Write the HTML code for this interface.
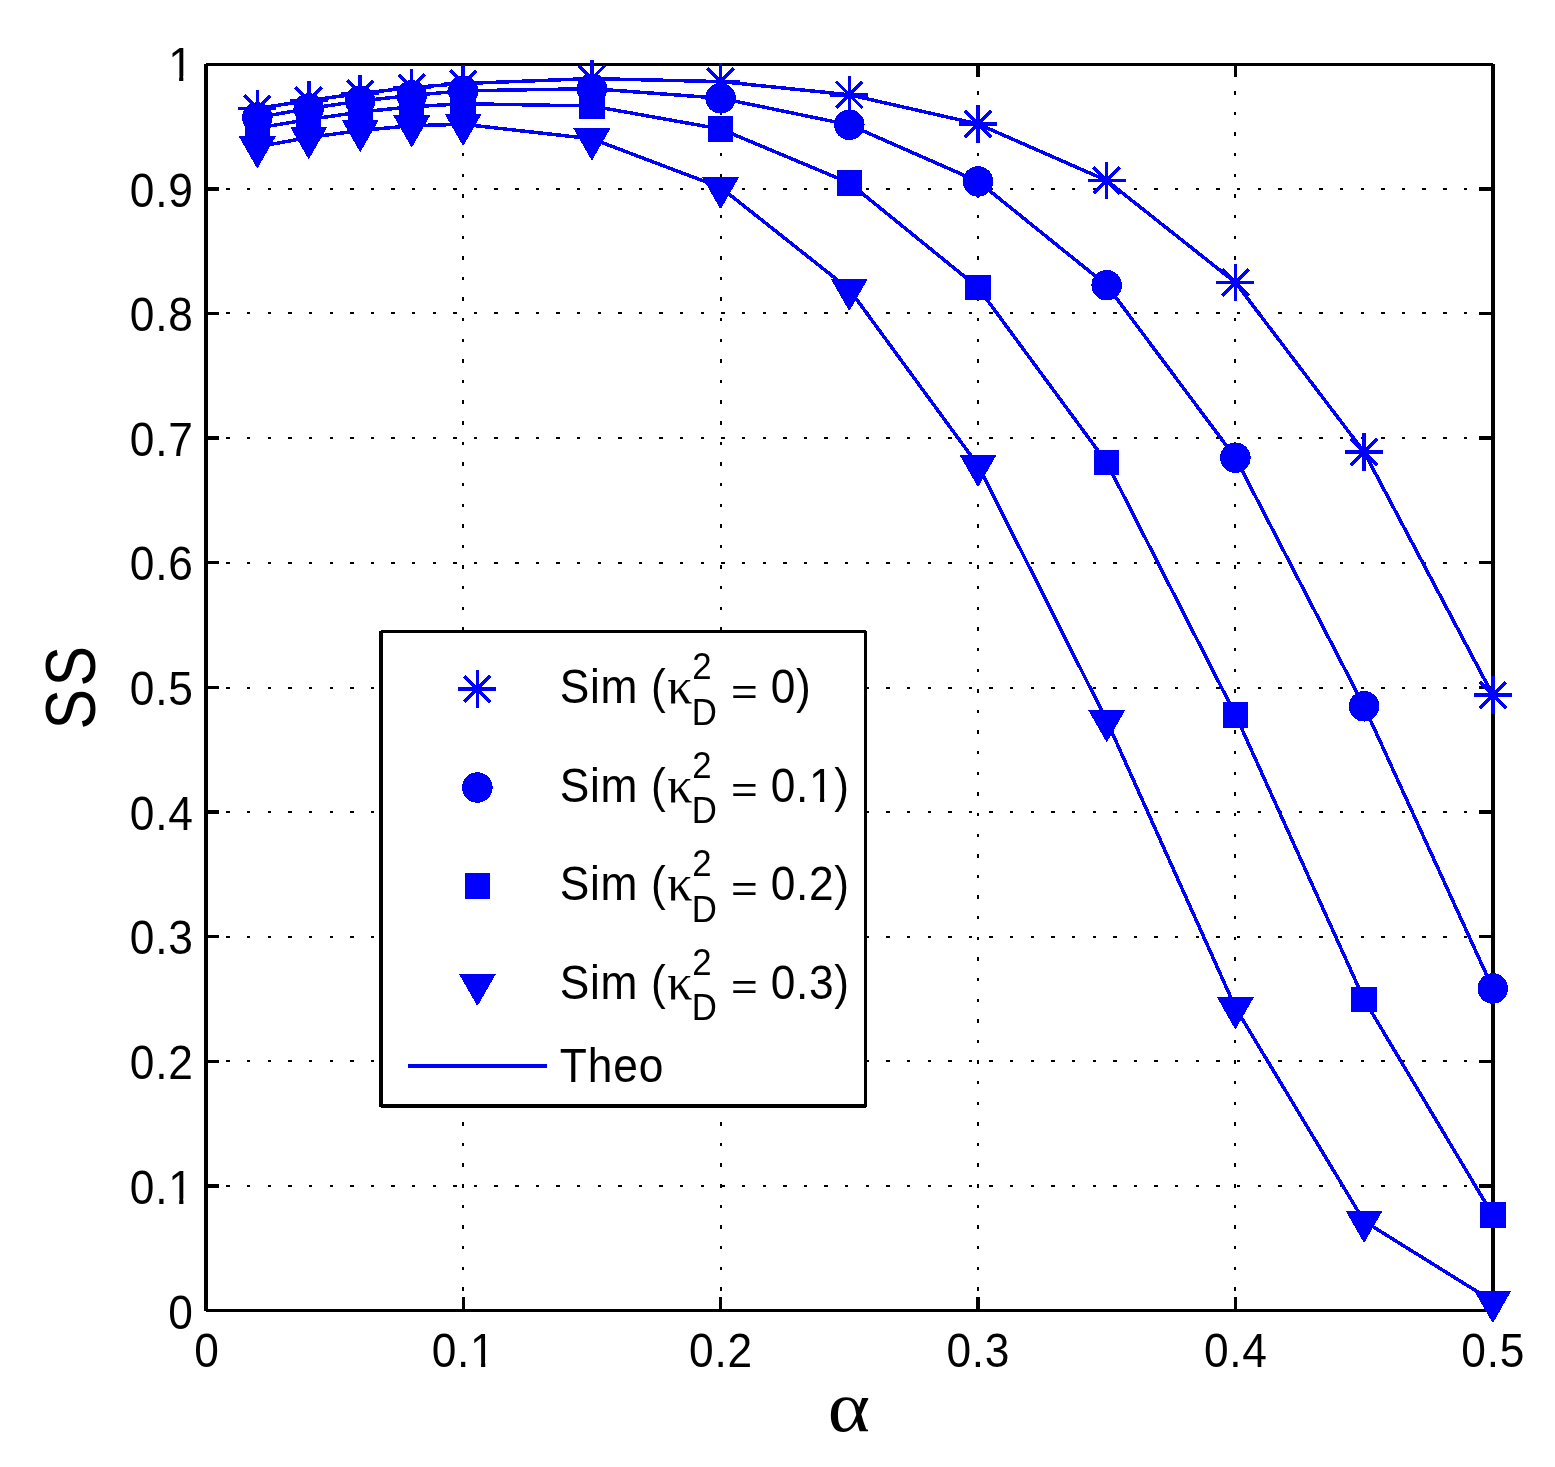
<!DOCTYPE html>
<html lang="en"><head><meta charset="utf-8"><title>SS versus alpha</title>
<style>
html,body{margin:0;padding:0;background:#fff;}
body{width:1555px;height:1467px;overflow:hidden;}
svg{display:block;}
text{font-family:"Liberation Sans",sans-serif;fill:#000;}
.t{font-size:47.4px;}
.s{font-size:37.2px;}
.g{font-family:"Liberation Serif","DejaVu Serif",serif;}
</style></head><body>
<svg width="1555" height="1467" viewBox="0 0 1555 1467">
<rect x="0" y="0" width="1555" height="1467" fill="#fff"/>
<g shape-rendering="crispEdges" stroke="#000" stroke-width="2" fill="none" stroke-dasharray="3.4 17.222">
<line x1="205.78" y1="189" x2="1493" y2="189"/>
<line x1="205.78" y1="313" x2="1493" y2="313"/>
<line x1="205.78" y1="438" x2="1493" y2="438"/>
<line x1="205.78" y1="563" x2="1493" y2="563"/>
<line x1="205.78" y1="688" x2="1493" y2="688"/>
<line x1="205.78" y1="812" x2="1493" y2="812"/>
<line x1="205.78" y1="937" x2="1493" y2="937"/>
<line x1="205.78" y1="1061" x2="1493" y2="1061"/>
<line x1="205.78" y1="1186" x2="1493" y2="1186"/>
<line x1="463" y1="1311.25" x2="463" y2="64.5"/>
<line x1="721" y1="1311.25" x2="721" y2="64.5"/>
<line x1="978" y1="1311.25" x2="978" y2="64.5"/>
<line x1="1235" y1="1311.25" x2="1235" y2="64.5"/>
</g>
<g shape-rendering="crispEdges" fill="#000">
<rect x="204" y="64" width="4" height="1247"/>
<rect x="1491" y="64" width="4" height="1247"/>
<rect x="206" y="63" width="1287" height="3"/>
<rect x="206" y="1309" width="1287" height="3"/>
<rect x="208" y="187" width="11" height="4"/>
<rect x="1479" y="187" width="12" height="4"/>
<rect x="208" y="312" width="11" height="3"/>
<rect x="1479" y="312" width="12" height="3"/>
<rect x="208" y="436" width="11" height="4"/>
<rect x="1479" y="436" width="12" height="4"/>
<rect x="208" y="561" width="11" height="3"/>
<rect x="1479" y="561" width="12" height="3"/>
<rect x="208" y="686" width="11" height="3"/>
<rect x="1479" y="686" width="12" height="3"/>
<rect x="208" y="810" width="11" height="4"/>
<rect x="1479" y="810" width="12" height="4"/>
<rect x="208" y="935" width="11" height="3"/>
<rect x="1479" y="935" width="12" height="3"/>
<rect x="208" y="1060" width="11" height="3"/>
<rect x="1479" y="1060" width="12" height="3"/>
<rect x="208" y="1184" width="11" height="4"/>
<rect x="1479" y="1184" width="12" height="4"/>
<rect x="462" y="1297" width="3" height="12"/>
<rect x="462" y="66" width="3" height="11"/>
<rect x="719" y="1297" width="3" height="12"/>
<rect x="719" y="66" width="3" height="11"/>
<rect x="976" y="1297" width="4" height="12"/>
<rect x="976" y="66" width="4" height="11"/>
<rect x="1234" y="1297" width="3" height="12"/>
<rect x="1234" y="66" width="3" height="11"/>
</g>
<g transform="translate(168.13,1328.70) scale(0.935,1)"><text class="t" letter-spacing="0.899">0</text></g>
<g transform="translate(129.84,1203.50) scale(0.935,1)"><text class="t" letter-spacing="0.749">0.1</text><rect x="43.11" y="-4.98" width="9.70" height="6.02" fill="#fff"/><rect x="57.28" y="-4.98" width="9.44" height="6.02" fill="#fff"/></g>
<g transform="translate(129.84,1079.00) scale(0.935,1)"><text class="t" letter-spacing="0.749">0.2</text></g>
<g transform="translate(129.84,954.00) scale(0.935,1)"><text class="t" letter-spacing="0.749">0.3</text></g>
<g transform="translate(129.84,829.50) scale(0.935,1)"><text class="t" letter-spacing="0.749">0.4</text></g>
<g transform="translate(129.84,705.00) scale(0.935,1)"><text class="t" letter-spacing="0.749">0.5</text></g>
<g transform="translate(129.84,580.00) scale(0.935,1)"><text class="t" letter-spacing="0.749">0.6</text></g>
<g transform="translate(129.84,455.50) scale(0.935,1)"><text class="t" letter-spacing="0.749">0.7</text></g>
<g transform="translate(129.84,331.00) scale(0.935,1)"><text class="t" letter-spacing="0.749">0.8</text></g>
<g transform="translate(129.84,206.50) scale(0.935,1)"><text class="t" letter-spacing="0.749">0.9</text></g>
<g transform="translate(168.13,81.10) scale(0.935,1)"><text class="t" letter-spacing="0.899">1</text><rect x="2.08" y="-4.98" width="9.70" height="6.02" fill="#fff"/><rect x="16.25" y="-4.98" width="9.44" height="6.02" fill="#fff"/></g>
<g transform="translate(194.28,1366.70) scale(0.935,1)"><text class="t" letter-spacing="0.899">0</text></g>
<g transform="translate(431.70,1366.70) scale(0.935,1)"><text class="t" letter-spacing="0.749">0.1</text><rect x="43.11" y="-4.98" width="9.70" height="6.02" fill="#fff"/><rect x="57.28" y="-4.98" width="9.44" height="6.02" fill="#fff"/></g>
<g transform="translate(689.10,1366.70) scale(0.935,1)"><text class="t" letter-spacing="0.749">0.2</text></g>
<g transform="translate(946.50,1366.70) scale(0.935,1)"><text class="t" letter-spacing="0.749">0.3</text></g>
<g transform="translate(1203.90,1366.70) scale(0.935,1)"><text class="t" letter-spacing="0.749">0.4</text></g>
<g transform="translate(1461.30,1366.70) scale(0.935,1)"><text class="t" letter-spacing="0.749">0.5</text></g>
<g transform="translate(827.73,1431.39) scale(1.137,1)"><text class="g" x="0" y="0" style="font-size:71px">α</text></g>
<g transform="translate(94.7,686.4) rotate(-90) scale(0.872,1)"><text x="0" y="0" text-anchor="middle" style="font-size:69.8px;letter-spacing:3px">SS</text></g>
<g shape-rendering="crispEdges">
<g fill="none" stroke="#0000ff" stroke-width="3.5" stroke-linejoin="round">
<polyline points="257.28,108.50 308.76,100.40 360.24,93.50 411.72,87.50 463.20,83.50 591.90,78.60 720.60,81.60 849.30,94.80 978.00,124.00 1106.70,180.50 1235.40,282.50 1364.10,452.00 1492.80,695.10"/>
<polyline points="257.28,117.50 308.76,108.50 360.24,101.00 411.72,95.40 463.20,90.80 591.90,88.70 720.60,98.20 849.30,124.80 978.00,181.40 1106.70,285.20 1235.40,457.70 1364.10,706.30 1492.80,988.50"/>
<polyline points="257.28,128.00 308.76,119.50 360.24,112.00 411.72,106.80 463.20,103.70 591.90,106.00 720.60,129.00 849.30,182.90 978.00,287.50 1106.70,462.50 1235.40,714.70 1364.10,999.60 1492.80,1215.10"/>
<polyline points="257.28,146.80 308.76,137.50 360.24,130.50 411.72,125.70 463.20,124.30 591.90,138.80 720.60,187.45 849.30,289.40 978.00,465.30 1106.70,720.50 1235.40,1007.60 1364.10,1221.20 1492.80,1301.30"/>
</g>
<g fill="none" stroke="#0000ff" stroke-width="3.5">
<path d="M238.33 108.50H276.23M257.28 89.55V127.45M244.18 95.40L270.38 121.60M244.18 121.60L270.38 95.40"/>
<path d="M289.81 100.40H327.71M308.76 81.45V119.35M295.66 87.30L321.86 113.50M295.66 113.50L321.86 87.30"/>
<path d="M341.29 93.50H379.19M360.24 74.55V112.45M347.14 80.40L373.34 106.60M347.14 106.60L373.34 80.40"/>
<path d="M392.77 87.50H430.67M411.72 68.55V106.45M398.62 74.40L424.82 100.60M398.62 100.60L424.82 74.40"/>
<path d="M444.25 83.50H482.15M463.20 64.55V102.45M450.10 70.40L476.30 96.60M450.10 96.60L476.30 70.40"/>
<path d="M572.95 78.60H610.85M591.90 59.65V97.55M578.80 65.50L605.00 91.70M578.80 91.70L605.00 65.50"/>
<path d="M701.65 81.60H739.55M720.60 62.65V100.55M707.50 68.50L733.70 94.70M707.50 94.70L733.70 68.50"/>
<path d="M830.35 94.80H868.25M849.30 75.85V113.75M836.20 81.70L862.40 107.90M836.20 107.90L862.40 81.70"/>
<path d="M959.05 124.00H996.95M978.00 105.05V142.95M964.90 110.90L991.10 137.10M964.90 137.10L991.10 110.90"/>
<path d="M1087.75 180.50H1125.65M1106.70 161.55V199.45M1093.60 167.40L1119.80 193.60M1093.60 193.60L1119.80 167.40"/>
<path d="M1216.45 282.50H1254.35M1235.40 263.55V301.45M1222.30 269.40L1248.50 295.60M1222.30 295.60L1248.50 269.40"/>
<path d="M1345.15 452.00H1383.05M1364.10 433.05V470.95M1351.00 438.90L1377.20 465.10M1351.00 465.10L1377.20 438.90"/>
<path d="M1473.85 695.10H1511.75M1492.80 676.15V714.05M1479.70 682.00L1505.90 708.20M1479.70 708.20L1505.90 682.00"/>
</g>
<g fill="#0000ff" stroke="none">
<circle cx="257.28" cy="117.50" r="15.25"/>
<circle cx="308.76" cy="108.50" r="15.25"/>
<circle cx="360.24" cy="101.00" r="15.25"/>
<circle cx="411.72" cy="95.40" r="15.25"/>
<circle cx="463.20" cy="90.80" r="15.25"/>
<circle cx="591.90" cy="88.70" r="15.25"/>
<circle cx="720.60" cy="98.20" r="15.25"/>
<circle cx="849.30" cy="124.80" r="15.25"/>
<circle cx="978.00" cy="181.40" r="15.25"/>
<circle cx="1106.70" cy="285.20" r="15.25"/>
<circle cx="1235.40" cy="457.70" r="15.25"/>
<circle cx="1364.10" cy="706.30" r="15.25"/>
<circle cx="1492.80" cy="988.50" r="15.25"/>
<rect x="244.56" y="115.20" width="25.45" height="25.6"/>
<rect x="296.03" y="106.70" width="25.45" height="25.6"/>
<rect x="347.51" y="99.20" width="25.45" height="25.6"/>
<rect x="399.00" y="94.00" width="25.45" height="25.6"/>
<rect x="450.48" y="90.90" width="25.45" height="25.6"/>
<rect x="579.17" y="93.20" width="25.45" height="25.6"/>
<rect x="707.88" y="116.20" width="25.45" height="25.6"/>
<rect x="836.57" y="170.10" width="25.45" height="25.6"/>
<rect x="965.27" y="274.70" width="25.45" height="25.6"/>
<rect x="1093.98" y="449.70" width="25.45" height="25.6"/>
<rect x="1222.68" y="701.90" width="25.45" height="25.6"/>
<rect x="1351.38" y="986.80" width="25.45" height="25.6"/>
<rect x="1480.08" y="1202.30" width="25.45" height="25.6"/>
<path d="M238.68 136.20H275.88L257.83 167.80H256.73Z"/>
<path d="M290.16 126.90H327.36L309.31 158.50H308.21Z"/>
<path d="M341.64 119.90H378.84L360.79 151.50H359.69Z"/>
<path d="M393.12 115.10H430.32L412.27 146.70H411.17Z"/>
<path d="M444.60 113.70H481.80L463.75 145.30H462.65Z"/>
<path d="M573.30 128.20H610.50L592.45 159.80H591.35Z"/>
<path d="M702.00 176.85H739.20L721.15 208.45H720.05Z"/>
<path d="M830.70 278.80H867.90L849.85 310.40H848.75Z"/>
<path d="M959.40 454.70H996.60L978.55 486.30H977.45Z"/>
<path d="M1088.10 709.90H1125.30L1107.25 741.50H1106.15Z"/>
<path d="M1216.80 997.00H1254.00L1235.95 1028.60H1234.85Z"/>
<path d="M1345.50 1210.60H1382.70L1364.65 1242.20H1363.55Z"/>
<path d="M1474.20 1290.70H1511.40L1493.35 1322.30H1492.25Z"/>
</g>
<rect x="381" y="631" width="485" height="475" fill="#fff" stroke="none"/>
<g fill="#000">
<rect x="379" y="631" width="4" height="476"/>
<rect x="864" y="631" width="3" height="476"/>
<rect x="381" y="630" width="485" height="3"/>
<rect x="381" y="1104" width="485" height="4"/>
</g>
<g fill="none" stroke="#0000ff" stroke-width="3.5"><path d="M458.45 689.00H496.35M477.40 670.05V707.95M464.30 675.90L490.50 702.10M464.30 702.10L490.50 675.90"/></g>
<g fill="#0000ff"><circle cx="477.40" cy="787.50" r="15.25"/><rect x="464.67" y="873.20" width="25.45" height="25.6"/><path d="M458.80 973.70H496.00L477.95 1005.30H476.85Z"/></g>
<rect x="408" y="1064" width="139" height="4" fill="#0000ff"/>
</g>
<g transform="translate(559.65,703.30) scale(0.935,1)"><text class="t" letter-spacing="0.754">Sim (</text></g>
<text class="g" x="667.3" y="703.3" style="font-size:50px">κ</text>
<g transform="translate(692.34,679.40) scale(0.935,1)"><text class="s" letter-spacing="0.724">2</text></g>
<g transform="translate(691.74,724.80) scale(0.935,1)"><text class="s" letter-spacing="0.941">D</text></g>
<g transform="translate(730.93,703.70) scale(1,0.8)"><text x="0" y="0" style="font-size:45.83px">=</text></g>
<g transform="translate(770.77,703.30) scale(0.935,1)"><text class="t" letter-spacing="0.718">0)</text></g>
<g transform="translate(559.65,801.80) scale(0.935,1)"><text class="t" letter-spacing="0.754">Sim (</text></g>
<text class="g" x="667.3" y="801.8" style="font-size:50px">κ</text>
<g transform="translate(692.34,777.90) scale(0.935,1)"><text class="s" letter-spacing="0.724">2</text></g>
<g transform="translate(691.74,823.30) scale(0.935,1)"><text class="s" letter-spacing="0.941">D</text></g>
<g transform="translate(730.93,802.20) scale(1,0.8)"><text x="0" y="0" style="font-size:45.83px">=</text></g>
<g transform="translate(770.76,801.80) scale(0.935,1)"><text class="t" letter-spacing="0.696">0.1)</text><rect x="43.01" y="-4.98" width="9.70" height="6.02" fill="#fff"/><rect x="57.17" y="-4.98" width="9.44" height="6.02" fill="#fff"/></g>
<g transform="translate(559.65,900.30) scale(0.935,1)"><text class="t" letter-spacing="0.754">Sim (</text></g>
<text class="g" x="667.3" y="900.3" style="font-size:50px">κ</text>
<g transform="translate(692.34,876.40) scale(0.935,1)"><text class="s" letter-spacing="0.724">2</text></g>
<g transform="translate(691.74,921.80) scale(0.935,1)"><text class="s" letter-spacing="0.941">D</text></g>
<g transform="translate(730.93,900.70) scale(1,0.8)"><text x="0" y="0" style="font-size:45.83px">=</text></g>
<g transform="translate(770.76,900.30) scale(0.935,1)"><text class="t" letter-spacing="0.696">0.2)</text></g>
<g transform="translate(559.65,998.60) scale(0.935,1)"><text class="t" letter-spacing="0.754">Sim (</text></g>
<text class="g" x="667.3" y="998.6" style="font-size:50px">κ</text>
<g transform="translate(692.34,974.70) scale(0.935,1)"><text class="s" letter-spacing="0.724">2</text></g>
<g transform="translate(691.74,1020.10) scale(0.935,1)"><text class="s" letter-spacing="0.941">D</text></g>
<g transform="translate(730.93,999.00) scale(1,0.8)"><text x="0" y="0" style="font-size:45.83px">=</text></g>
<g transform="translate(770.76,998.60) scale(0.935,1)"><text class="t" letter-spacing="0.696">0.3)</text></g>
<g transform="translate(559.73,1081.90) scale(0.935,1)"><text class="t" letter-spacing="0.921">Theo</text></g>
</svg></body></html>
